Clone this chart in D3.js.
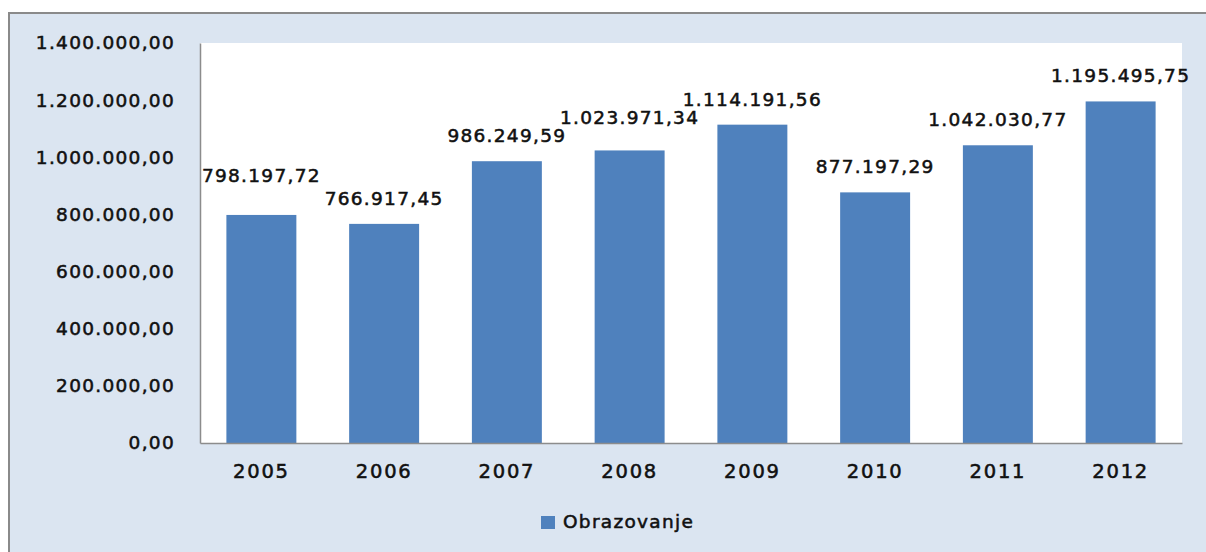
<!DOCTYPE html>
<html>
<head>
<meta charset="utf-8">
<script src="https://cdn.jsdelivr.net/npm/d3@7"></script>
<style>
  body { margin: 0; background: #fff; }
  text { font-family: "DejaVu Sans", Verdana, sans-serif; font-weight: normal; fill: #111;
         stroke: #111; stroke-width: 0.55px; letter-spacing: 1.3px; }
</style>
</head>
<body>
<div id="chart"></div>
<script>
// data
var years = ["2005", "2006", "2007", "2008", "2009", "2010", "2011", "2012"];
var obrazovanje = [798197.72, 766917.45, 986249.59, 1023971.34, 1114191.56, 877197.29, 1042030.77, 1195495.75];
var yTicks = [0, 200000, 400000, 600000, 800000, 1000000, 1200000, 1400000];
var seriesName = "Obrazovanje";

// extra lift for a few labels (Excel moved them up)
var labelLift = { "2005": 14, "2008": 7 };

var svgWidth = 1206;
var svgHeight = 552;

var plot = { left: 200, top: 43, right: 1182, bottom: 443 };

var svg = d3.select("#chart")
  .append("svg")
  .attr("width", svgWidth)
  .attr("height", svgHeight);

// chart background + border
svg.append("rect")
  .attr("x", 9).attr("y", 13)
  .attr("width", svgWidth + 20).attr("height", svgHeight + 20)
  .attr("fill", "#dbe5f1")
  .attr("stroke", "#8a8a8a")
  .attr("stroke-width", 2);

// plot area
svg.append("rect")
  .attr("x", plot.left).attr("y", plot.top)
  .attr("width", plot.right - plot.left).attr("height", plot.bottom - plot.top)
  .attr("fill", "#ffffff");

var xScale = d3.scaleBand()
  .domain(years)
  .range([plot.left, plot.right])
  .paddingInner(0.43)
  .paddingOuter(0.215);

var yScale = d3.scaleLinear()
  .domain([0, 1400000])
  .range([plot.bottom, plot.top]);

var fmt = function(v) {
  var s = v.toFixed(2).split(".");
  return s[0].replace(/\B(?=(\d{3})+(?!\d))/g, ".") + "," + s[1];
};

// bars
svg.selectAll("rect.bar")
  .data(obrazovanje)
  .enter()
  .append("rect")
  .attr("class", "bar")
  .attr("x", (d, i) => xScale(years[i]))
  .attr("y", d => yScale(d))
  .attr("width", xScale.bandwidth())
  .attr("height", d => plot.bottom - yScale(d))
  .attr("fill", "#4f81bd");

// value labels
svg.selectAll("text.val")
  .data(obrazovanje)
  .enter()
  .append("text")
  .attr("class", "val")
  .attr("x", (d, i) => xScale(years[i]) + xScale.bandwidth() / 2)
  .attr("y", (d, i) => yScale(d) - 19 - (labelLift[years[i]] || 0))
  .attr("text-anchor", "middle")
  .style("font-size", "18.5px")
  .text(d => fmt(d));

// axes
var leftAxis = d3.axisLeft(yScale)
  .tickValues(yTicks)
  .tickSize(0)
  .tickPadding(25)
  .tickFormat(fmt);

var bottomAxis = d3.axisBottom(xScale)
  .tickSize(0)
  .tickPadding(21);

var gy = svg.append("g")
  .attr("transform", `translate(${plot.left},0)`)
  .call(leftAxis);
gy.select(".domain").attr("stroke", "#8c8c8c").attr("stroke-width", 1.5);
gy.selectAll("text").style("font-size", "18.5px").attr("fill", "#111");

var gx = svg.append("g")
  .attr("transform", `translate(0,${plot.bottom})`)
  .call(bottomAxis);
gx.select(".domain").attr("stroke", "#8c8c8c").attr("stroke-width", 1.5);
gx.selectAll("text").style("font-size", "19.5px").style("letter-spacing", "1.8px").attr("fill", "#111");

// legend
var legend = svg.append("g").attr("transform", "translate(541,516)");
legend.append("rect")
  .attr("width", 14).attr("height", 13)
  .attr("fill", "#4f81bd");
legend.append("text")
  .attr("x", 22).attr("y", 12)
  .style("font-size", "18.5px")
  .text(seriesName);
</script>
</body>
</html>
